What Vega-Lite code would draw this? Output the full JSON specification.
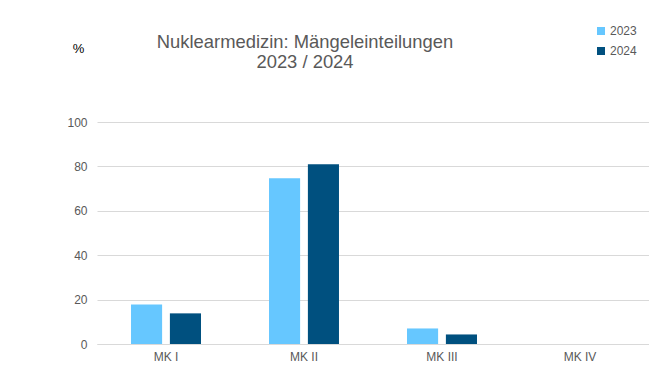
{
  "$schema": "https://vega.github.io/schema/vega-lite/v6.json",
  "autosize": "none",
  "padding": {"left": 97, "top": 122, "right": 0, "bottom": 26},
  "width": 552,
  "height": 222,
  "background": "white",
  "config": {
    "font": "Liberation Sans",
    "view": {"stroke": null}
  },
  "title": {
    "text": ["Nuklearmedizin: Mängeleinteilungen", "2023 / 2024"],
    "anchor": "middle",
    "frame": "group",
    "dx": -68,
    "dy": 104,
    "fontSize": 18.4,
    "fontWeight": "normal",
    "color": "#595959",
    "lineHeight": 20,
    "offset": 58
  },
  "data": {
    "values": [
      {"kategorie": "MK I", "jahr": "2023", "wert": 17.8},
      {"kategorie": "MK I", "jahr": "2024", "wert": 13.8},
      {"kategorie": "MK II", "jahr": "2023", "wert": 74.7},
      {"kategorie": "MK II", "jahr": "2024", "wert": 81.0},
      {"kategorie": "MK III", "jahr": "2023", "wert": 7.0},
      {"kategorie": "MK III", "jahr": "2024", "wert": 4.3},
      {"kategorie": "MK IV", "jahr": "2023", "wert": 0},
      {"kategorie": "MK IV", "jahr": "2024", "wert": 0}
    ]
  },
  "mark": {"type": "bar"},
  "encoding": {
    "x": {
      "field": "kategorie",
      "type": "nominal",
      "sort": ["MK I", "MK II", "MK III", "MK IV"],
      "scale": {"paddingInner": 0.493, "paddingOuter": 0.2465},
      "axis": {
        "title": null,
        "labelAngle": 0,
        "labelColor": "#595959",
        "labelFontSize": 12,
        "labelPadding": 7,
        "ticks": false,
        "domainColor": "#d9d9d9",
        "domainWidth": 1
      }
    },
    "xOffset": {
      "field": "jahr",
      "type": "nominal",
      "scale": {"paddingInner": 0.2, "paddingOuter": 0}
    },
    "y": {
      "field": "wert",
      "type": "quantitative",
      "scale": {"domain": [0, 100]},
      "axis": {
        "title": "%",
        "titleAngle": 0,
        "titleX": -19,
        "titleY": -67,
        "titleFontSize": 13,
        "titleFontWeight": "normal",
        "titleColor": "#000000",
        "titleAlign": "center",
        "values": [0, 20, 40, 60, 80, 100],
        "labelColor": "#595959",
        "labelFontSize": 12,
        "labelPadding": 10,
        "ticks": false,
        "domain": false,
        "gridColor": "#d9d9d9",
        "gridWidth": 1
      }
    },
    "color": {
      "field": "jahr",
      "type": "nominal",
      "scale": {"domain": ["2023", "2024"], "range": ["#66c7ff", "#00507f"]},
      "legend": {
        "title": null,
        "orient": "none",
        "legendX": 498,
        "legendY": -97,
        "symbolType": "square",
        "symbolSize": 64,
        "symbolStrokeWidth": 0,
        "labelColor": "#595959",
        "labelFontSize": 12,
        "rowPadding": 8,
        "labelOffset": 3
      }
    }
  }
}
